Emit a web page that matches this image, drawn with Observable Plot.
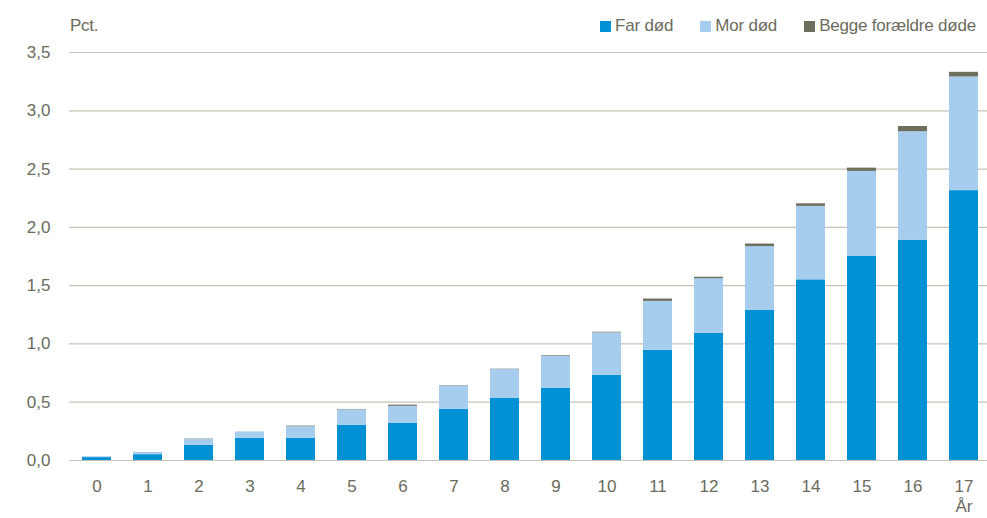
<!DOCTYPE html>
<html>
<head>
<meta charset="utf-8">
<script src="https://cdn.jsdelivr.net/npm/d3@7"></script>
<script src="https://cdn.jsdelivr.net/npm/@observablehq/plot@0.6"></script>
<style>
  html, body { margin: 0; padding: 0; background: #fff; }
  #wrap { position: relative; width: 987px; height: 518px; font-family: "Liberation Sans", Arial, sans-serif; color: #6b6b5d; }
  #unit { position: absolute; left: 70px; top: 16px; font-size: 17px; letter-spacing: -0.3px; }
  #legend { position: absolute; right: 11px; top: 16px; display: flex; font-size: 17px; letter-spacing: -0.2px; }
  .item { display: flex; align-items: center; margin-left: 27px; }
  .sw { width: 11px; height: 11px; margin-right: 4px; }
  svg text { fill: #6b6b5d; }
</style>
</head>
<body>
<div id="wrap">
  <div id="chart"></div>
  <div id="unit">Pct.</div>
  <div id="legend"></div>
</div>
<script>
const ages = ["0","1","2","3","4","5","6","7","8","9","10","11","12","13","14","15","16","17"];
const farDod = [0.025,0.05,0.13,0.19,0.19,0.30,0.32,0.44,0.535,0.62,0.73,0.945,1.09,1.29,1.55,1.75,1.89,2.315];
const morDod = [0.007,0.02,0.05,0.055,0.10,0.135,0.145,0.20,0.245,0.275,0.365,0.42,0.47,0.545,0.63,0.73,0.93,0.975];
const beggeDode = [0,0,0.003,0,0.005,0.003,0.01,0.003,0.003,0.005,0.005,0.02,0.012,0.022,0.022,0.028,0.045,0.04];
const seriesNames = ["Far død", "Mor død", "Begge forældre døde"];
const seriesColors = ["#0090d4", "#a6cdee", "#6e6e5e"];
const yTicks = [0, 0.5, 1, 1.5, 2, 2.5, 3, 3.5];
const xAxisTitle = "År";

const seriesValues = [farDod, morDod, beggeDode];
const data = [];
ages.forEach((a, i) => {
  seriesNames.forEach((s, j) => data.push({age: a, type: s, value: seriesValues[j][i]}));
});

const fmt = d => d.toFixed(1).replace(".", ",");

const chart = Plot.plot({
  width: 987,
  height: 518,
  marginTop: 52,
  marginBottom: 58,
  marginLeft: 69,
  marginRight: 0,
  style: {fontFamily: "'Liberation Sans', Arial, sans-serif", fontSize: "17px", color: "#6b6b5d", background: "#fff"},
  x: {type: "band", domain: ages, range: [67.5, 992.5], paddingInner: 0.44, paddingOuter: 0.22, label: null},
  y: {domain: [0, 3.5], label: null},
  color: {domain: seriesNames, range: seriesColors},
  marks: [
    Plot.gridY(yTicks, {stroke: "#c6c3b6", strokeOpacity: 1, strokeWidth: 1.2}),
    Plot.axisY(yTicks, {tickSize: 0, tickPadding: 19, tickFormat: fmt, fontSize: 17, label: null}),
    Plot.axisX({tickSize: 0, tickPadding: 19, fontSize: 17, label: null}),
    Plot.barY(data, {x: "age", y: "value", fill: "type", order: seriesNames}),
    Plot.text([{age: ages[ages.length - 1], t: xAxisTitle}], {x: "age", y: () => 0, text: "t", dy: 46, fontSize: 17, fill: "#6b6b5d"})
  ]
});
document.getElementById("chart").appendChild(chart);

const legend = document.getElementById("legend");
seriesNames.forEach((s, i) => {
  const it = document.createElement("div");
  it.className = "item";
  if (i === 0) it.style.marginLeft = "0";
  const sw = document.createElement("div");
  sw.className = "sw";
  sw.style.background = seriesColors[i];
  const tx = document.createElement("span");
  tx.textContent = s;
  it.appendChild(sw); it.appendChild(tx);
  legend.appendChild(it);
});
</script>
</body>
</html>
